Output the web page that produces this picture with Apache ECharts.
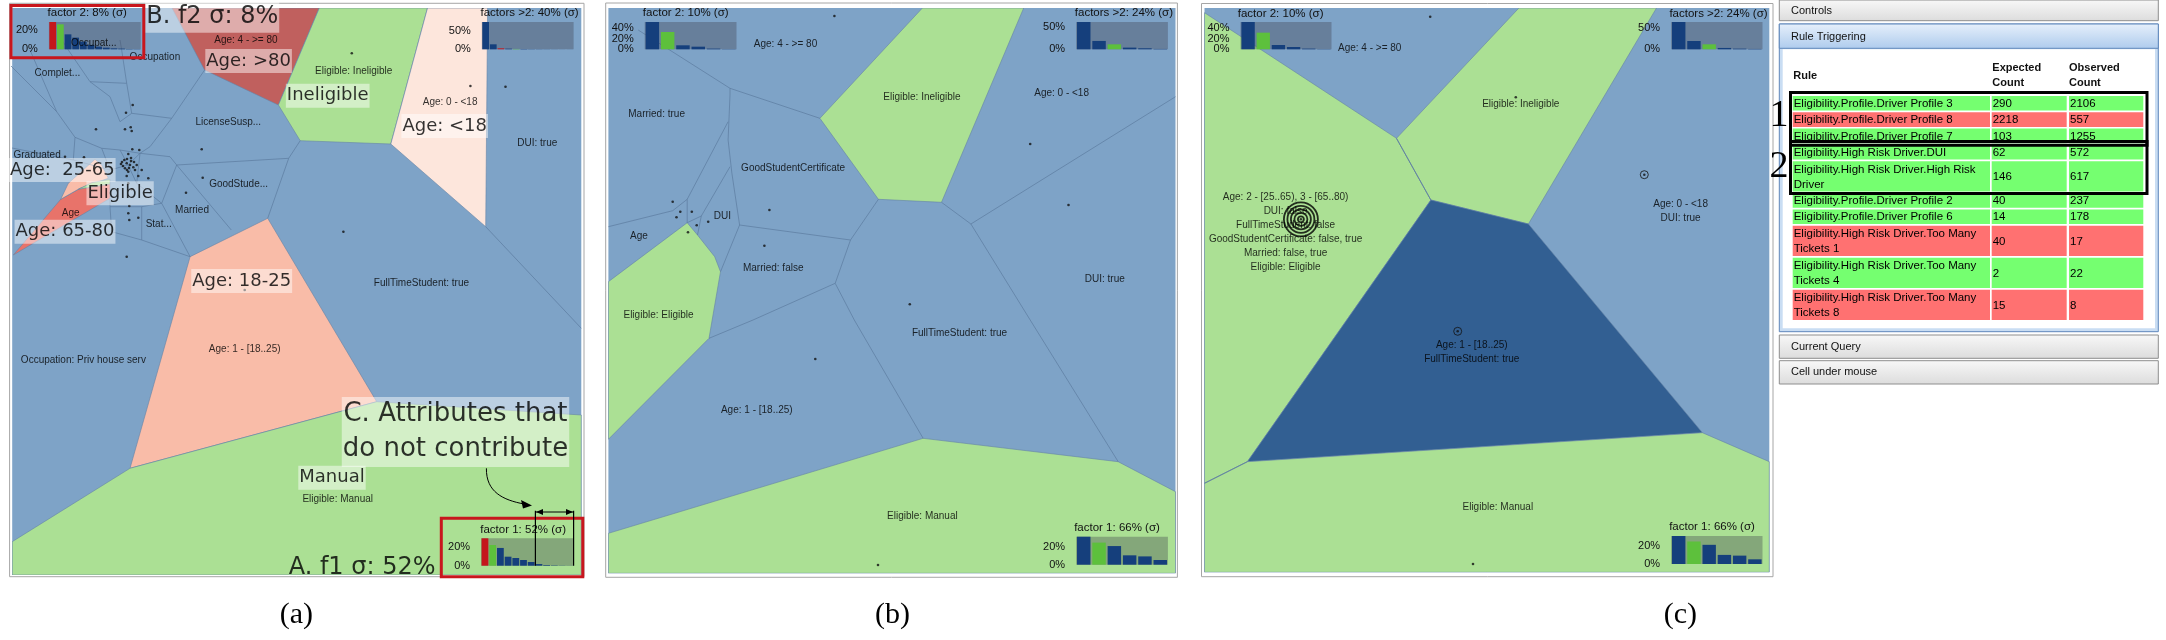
<!DOCTYPE html>
<html>
<head>
<meta charset="utf-8">
<script src="https://cdn.jsdelivr.net/npm/echarts@6/dist/echarts.min.js"></script>
<style>
  html, body { margin: 0; background: #fff; }
  #main { width: 2166px; height: 640px; }
</style>
</head>
<body>
<div id="main"></div>
<script>
// ---- data: voronoi cells, edges, centres and labels of the three maps ----
const panelACells = [
  { kind: 'high', pts: [[172,8],[319.3,8],[278.4,105],[204.6,70]] },
  { kind: 'match', pts: [[319.3,8],[427.5,8],[390.8,144],[300.2,140.7],[278.4,105]] },
  { kind: 'low', pts: [[427.5,8],[487.6,8],[485.7,226.7],[390.8,144]] },
  { kind: 'mid', pts: [[267.7,218.3],[190.1,256.7],[130,468.3],[376.7,401.7]] },
  { kind: 'match', pts: [[12.2,541.7],[130,468.3],[376.7,401.7],[581.3,415],[581.3,575],[12.2,575]] },
  { kind: 'hot', pts: [[13.3,255],[60.7,199.3],[80,188.3],[110,183.3],[110,198.3]] },
  { kind: 'mid', pts: [[60.7,199.3],[68.3,183.3],[95,159.3],[101.7,165],[108.3,178.3],[80,188.3]] },
  { kind: 'match', pts: [[78.3,189.3],[91.7,182.7],[110,179.3],[110,184]] }
];
const panelAEdges = [
  [[10,65],[56.7,111.7],[75,137.3],[101.7,148.3]],
  [[62,40],[68.3,50],[90,81.7],[110,96.7],[120,121.7]],
  [[120,40],[121.7,50],[126.7,83.3],[131.7,113.3]],
  [[90,81.7],[126.7,83.3]],
  [[131.7,113.3],[171.7,118.3],[204.6,70]],
  [[171.7,118.3],[150,146.7],[140,153.3]],
  [[120,121.7],[131.7,113.3]],
  [[101.7,148.3],[120,150],[140,153.3]],
  [[75,137.3],[73.3,160]],
  [[12,148],[73.3,160],[110,170]],
  [[140,153.3],[170,156.7],[176.7,165]],
  [[176.7,165],[288.7,158.3],[300.2,140.7]],
  [[288.7,158.3],[267.7,218.3]],
  [[176.7,165],[231.3,230]],
  [[176.7,165],[161.7,203.3]],
  [[136.7,183.3],[161.7,203.3],[190.1,256.7]],
  [[110,206.7],[141.7,206.7],[161.7,203.3]],
  [[111.7,231.7],[141.7,240],[190.1,256.7]],
  [[141.7,206.7],[141.7,240]],
  [[110,198.3],[110,206.7],[111.7,231.7]],
  [[140,153.3],[136.7,183.3]],
  [[30,50],[56.7,111.7]],
  [[485.7,226.7],[581.3,328.3]],
  [[128,165],[140,153.3]], [[128,165],[110,170]], [[128,165],[136.7,183.3]], [[128,165],[120,150]],
  [[110,170],[101.7,148.3]]
];
const panelADots = [
  [132.7,105],[126,112.7],[96,129.3],[125,129.3],[130.7,127.3],[131.7,131],[132.3,149.3],[139.3,150],
  [128.3,154],[124.3,160],[126.7,163.3],[130,165],[125,168.3],[133.3,167.3],[128.3,171.7],[136.7,165],
  [141.7,170],[126.7,176],[138.3,176],[148.3,178.3],[128.3,183.3],[131.7,189.3],[129.3,206],[128.3,213.3],
  [129.3,220],[138.3,217.7],[126.7,256.7],[201.7,149.3],[202.7,177.7],[186,192.7],[84,157.3],[65,156.7],
  [351.8,53.3],[470.4,86],[505.5,86.7],[343.4,231.7],[244.7,290],[122,162],[127,159],[131,161],[123,166],
  [129,168],[134,162],[121,164],[127,170],[131,158],[135,170]
];
const panelALabels = [
  ['Occupation',154.9,57.7], ['Complet...',57.4,73.7], ['Age: 4 - >= 80',245.9,40.7],
  ['Eligible: Ineligible',353.7,71.3], ['Age: 0 - <18',450.1,102.7], ['DUI: true',537.3,143.7],
  ['LicenseSusp...',228.3,122.7], ['Graduated',37.1,155.7], ['GoodStude...',238.6,184.3],
  ['Married',192,210.7], ['Stat...',158.7,224.7], ['Age',70.7,213.3], ['FullTimeStudent: true',421.4,283.7],
  ['Age: 1 - [18..25)',244.7,349], ['Occupation: Priv house serv',83.4,360.7], ['Eligible: Manual',337.7,499.3],
  ['Occupat...',93.7,43.3]
];
const panelANotes = [
  ['B. f2 σ: 8%',212.2,16.7], ['Age: >80',248.6,61], ['Ineligible',327.7,95.7], ['Age: <18',444.7,126],
  ['Age:  25-65',62.3,170], ['Eligible',120.1,193.3], ['Age: 65-80',65,231.7], ['Age: 18-25',241.7,281],
  ['C. Attributes that\ndo not contribute',455.5,432], ['Manual',332,477.7], ['A. f1 σ: 52%',362.1,567.3]
];

const panelBCells = [
  { kind: 'match', pts: [[922.4,8],[1023.7,8],[941.5,202.3],[878.4,199.3],[819.9,118.3]] },
  { kind: 'match', pts: [[608.4,281.7],[687.2,222.7],[697.5,235],[714.7,256.7],[720.5,271.7],[709,338.3],[608.4,439.3]] },
  { kind: 'match', pts: [[608.4,533.3],[923.1,438.3],[1118.2,461.7],[1175.5,491.7],[1175.5,573.3],[608.4,573.3]] }
];
const panelBEdges = [
  [[638.2,30],[730,88.3],[819.9,118.3]],
  [[730,88.3],[730,95],[728.1,140],[731.9,173.3],[739.6,225],[720.5,271.7]],
  [[728.1,121.7],[687.2,199.3],[687.2,222.7]],
  [[608.4,226.7],[672.7,210.7],[687.2,199.3]],
  [[730,166.7],[701.3,216],[697.5,235]],
  [[687.2,222.7],[701.3,216]],
  [[739.6,225],[850.5,240],[878.4,199.3]],
  [[850.5,240],[835.2,283.3],[753,320],[709,338.3]],
  [[835.2,283.3],[854.3,320],[923.1,438.3]],
  [[941.5,202.3],[970.9,224],[1030.2,320],[1118.2,461.7]],
  [[970.9,224],[1175.5,96.7]]
];
const panelBDots = [
  [834.4,16],[672.7,201.7],[680.3,211.7],[691.8,211.7],[676.5,217.3],[696.7,225.3],[708.2,221.7],[688,232.3],
  [769.4,210],[764.4,245.7],[1030.2,144],[1068.5,205],[909.8,304.3],[815.3,359],[878,565]
];
const panelBLabels = [
  ['Age: 4 - >= 80',785.5,44.3], ['Married: true',656.6,114.3], ['GoodStudentCertificate',793.1,168.3],
  ['Eligible: Ineligible',922,97.3], ['Age: 0 - <18',1061.6,93.7], ['DUI',722.4,216.7], ['Age',639,236],
  ['Married: false',773.2,268.7], ['DUI: true',1104.8,279.3], ['Eligible: Eligible',658.5,315.7],
  ['FullTimeStudent: true',959.5,333.3], ['Age: 1 - [18..25)',756.8,410], ['Eligible: Manual',922.4,516.7]
];

const panelCCells = [
  { kind: 'match', pts: [[1204.5,12.7],[1396.5,138.3],[1430.9,200],[1247.4,461.7],[1204.5,483.3]] },
  { kind: 'match', pts: [[1518.9,8],[1656.5,8],[1528.4,224],[1430.9,200],[1396.5,138.3]] },
  { kind: 'sel', pts: [[1430.9,200],[1528.4,224],[1702.4,432.7],[1247.4,461.7]] },
  { kind: 'match', pts: [[1247.4,461.7],[1702.4,432.7],[1769.3,461.7],[1769.3,572.3],[1204.5,572.3],[1204.5,483.3]] }
];
const panelCEdges = [
  [[1396.5,138.3],[1430.9,200]],
  [[1247.4,461.7],[1204.5,483.3]]
];
const panelCDots = [[1430.2,16.7],[1515.8,97.3],[1473,564]];
const panelCLabels = [
  ['Age: 4 - >= 80',1369.7,48.7], ['Eligible: Ineligible',1520.8,104.7],
  ['Age: 2 - [25..65), 3 - [65..80)\nDUI: false\nFullTimeStudent: false\nGoodStudentCertificate: false, true\nMarried: false, true\nEligible: Eligible',1285.6,232],
  ['Age: 0 - <18\nDUI: true',1680.6,211.7], ['Age: 1 - [18..25)\nFullTimeStudent: true',1471.8,352.5],
  ['Eligible: Manual',1497.8,507.7]
];
const panelCSelected = [[1300.9,219.3]];
const panelCTargets = [[1644.3,174.7],[1457.7,331.3]];

// ---- data: factor histograms (percent of variance) ----
const histTitles = ['factor 2: 8% (σ)','factors >2: 40% (σ)','factor 1: 52% (σ)',
                    'factor 2: 10% (σ)','factors >2: 24% (σ)','factor 1: 66% (σ)',
                    'factor 2: 10% (σ)','factors >2: 24% (σ)','factor 1: 66% (σ)'];
const histValues = [
  [28.3,25.9,15.5,12.1,7.9,4.5,2.8,1.7,1.0,0.7,0.3,0.2],
  [74.5,13.6,2.7,1.8,1.0,0.9,0.5,0.4,0.3,0.2,0.1,0.1],
  [29.8,22.5,19.3,9.8,8.4,6.2,4.0,1.8,0.7,0.4,0.2,0.1],
  [52,33,7.6,5,1.3,0.4],
  [62,19,11.3,3.8,2.3,0.8],
  [31.7,25,21.1,10.6,9.4,5.3],
  [52,31.7,8.2,4.4,1.3,0.4],
  [63,19.2,11.5,3.1,1.5,0.8],
  [31.1,25,21.3,10.1,9.3,5.2]
];
const histRedBar = [0,2,0,-1,-1,-1,-1,-1,-1];
const histGreenBar = [1,4,1,1,2,1,1,2,1];
const histMax = [28.3,74.5,29.8,52,62,31.7,52,63,31.1];
const histTicks = [[0,20],[0,50],[0,20],[0,20,40],[0,50],[0,20],[0,20,40],[0,50],[0,20]];

// ---- data: rule triggering table ----
const ruleNames = [
  'Eligibility.Profile.Driver Profile 3','Eligibility.Profile.Driver Profile 8','Eligibility.Profile.Driver Profile 7',
  'Eligibility.High Risk Driver.DUI','Eligibility.High Risk Driver.High Risk\nDriver',
  'Eligibility.Profile.Driver Profile 2','Eligibility.Profile.Driver Profile 6',
  'Eligibility.High Risk Driver.Too Many\nTickets 1','Eligibility.High Risk Driver.Too Many\nTickets 4',
  'Eligibility.High Risk Driver.Too Many\nTickets 8'
];
const expectedCounts = [290,2218,103,62,146,40,14,40,2,15];
const observedCounts = [2106,557,1255,572,617,237,178,17,22,8];
const captions = ['(a)','(b)','(c)'];

// ---- layout & style ----
const kindColor = { match:'#abe094', high:'#c0605e', low:'#fde6dc', mid:'#f9bca8', hot:'#e8736a', sel:'#325f92' };
const BLUE = '#7ea3c7', NAVY = '#153f7c', GREEN = '#5dc03c', RED = '#c4161c';
const panelRects = [[12.2,8,569.1,567],[608.4,8,567.1,565.3],[1204.5,8,564.8,564.3]];
const panelFrames = [[9.6,3.3,574.4,573.4],[605.7,3,571.7,574.3],[1201.5,3.5,571.5,573.2]];
const histBoxes = [[48.9,22,91.8,27.3],[481.8,22,91.8,27.3],[481.1,538.3,92.5,27.4],
                   [644.7,22,91.8,27.3],[1076.1,22,91.8,27.3],[1076.1,536.7,91.8,28],
                   [1240.5,22,91,27.3],[1671.1,22,91.4,27.3],[1671.1,536,91.4,28]];
const histTitlePos = [[87.2,13.3],[529.6,13.3],[523.1,530],[685.7,13.3],[1123.9,13.3],[1117,528.3],
                      [1280.6,14],[1718.5,14],[1712,527.3]];
const noteSizes = [24,18,18,18,18,18,18,18,26,18,24];
const captionPos = [[296.4,615],[892.5,615],[1680.3,615]];
const ringSizes = [34,27,20,13,6];

const panels = [
  { cells: panelACells, edges: panelAEdges, dots: panelADots, labels: panelALabels },
  { cells: panelBCells, edges: panelBEdges, dots: panelBDots, labels: panelBLabels },
  { cells: panelCCells, edges: panelCEdges, dots: panelCDots, labels: panelCLabels }
];

const grids = [], xAxes = [], yAxes = [], series = [];

panelRects.forEach((r, i) => {
  grids.push({ left: r[0], top: r[1], width: r[2], height: r[3], show: true, backgroundColor: BLUE, borderWidth: 0, z: 0 });
  xAxes.push({ type: 'value', gridIndex: i, min: r[0], max: r[0] + r[2], show: false });
  yAxes.push({ type: 'value', gridIndex: i, min: r[1], max: r[1] + r[3], inverse: true, show: false });
  const p = panels[i];
  series.push({
    type: 'custom', coordinateSystem: 'cartesian2d', xAxisIndex: i, yAxisIndex: i, clip: true, z: 1, silent: true,
    data: p.cells.map((c, k) => [c.pts[0][0], c.pts[0][1], k]),
    renderItem: (params, api) => {
      const c = p.cells[api.value(2)];
      return { type: 'polygon', shape: { points: c.pts.map(pt => api.coord(pt)) },
               style: { fill: kindColor[c.kind], stroke: '#6483a6', lineWidth: 0.6 } };
    }
  });
  series.push({
    type: 'lines', coordinateSystem: 'cartesian2d', xAxisIndex: i, yAxisIndex: i, polyline: true, clip: true, z: 2, silent: true,
    data: p.edges.map(e => ({ coords: e })),
    lineStyle: { color: '#5b7b9f', width: 0.7, opacity: 1 }
  });
  series.push({
    type: 'scatter', xAxisIndex: i, yAxisIndex: i, symbolSize: 2.6, z: 3, silent: true,
    itemStyle: { color: '#111' }, data: p.dots
  });
  series.push({
    type: 'scatter', xAxisIndex: i, yAxisIndex: i, symbolSize: 1, z: 7, silent: true,
    itemStyle: { color: 'transparent' },
    data: p.labels.map(l => ({ name: l[0], value: [l[1], l[2]] })),
    label: { show: true, position: 'inside', formatter: '{b}', fontSize: 10, lineHeight: 14,
             fontFamily: 'Liberation Sans', color: '#000', align: 'center', verticalAlign: 'middle' },
    labelLayout: { hideOverlap: false }
  });
});

// annotations in panel (a)
series.push({
  type: 'scatter', xAxisIndex: 0, yAxisIndex: 0, symbolSize: 1, z: 8, silent: true,
  itemStyle: { color: 'transparent' },
  data: panelANotes.map((n, k) => ({
    name: n[0], value: [n[1], n[2]],
    label: { fontSize: noteSizes[k], lineHeight: Math.round(noteSizes[k] * 1.35),
             backgroundColor: k === panelANotes.length - 1 ? 'transparent' : 'rgba(255,255,255,0.6)' }
  })),
  label: { show: true, position: 'inside', formatter: '{b}', fontFamily: 'DejaVu Sans', color: '#000',
           padding: [0, 1], align: 'center', verticalAlign: 'middle' },
  labelLayout: { hideOverlap: false }
});

// selected cell marks in panel (c)
series.push({
  type: 'scatter', xAxisIndex: 2, yAxisIndex: 2, z: 8, silent: true,
  data: ringSizes.map(s => ({ value: panelCSelected[0], symbolSize: s })),
  itemStyle: { color: 'transparent', borderColor: '#000', borderWidth: 1.8 }
});
series.push({
  type: 'scatter', xAxisIndex: 2, yAxisIndex: 2, z: 8, silent: true, symbolSize: 8,
  data: panelCTargets, itemStyle: { color: 'transparent', borderColor: '#111', borderWidth: 1 }
});
series.push({
  type: 'scatter', xAxisIndex: 2, yAxisIndex: 2, z: 8, silent: true, symbolSize: 2.5,
  data: panelCTargets.concat(panelCSelected), itemStyle: { color: '#111' }
});

// factor histograms; one y axis per tick label so tightly packed labels are all kept
histBoxes.forEach((b, k) => {
  const gi = 3 + k;
  grids.push({ left: b[0], top: b[1], width: b[2], height: b[3], show: true,
               backgroundColor: 'rgba(60,60,75,0.35)', borderWidth: 0, z: 4 });
  xAxes.push({ type: 'category', gridIndex: gi, data: histValues[k].map((v, j) => String(j + 1)), show: false });
  const firstAxis = yAxes.length;
  histTicks[k].forEach(t => {
    yAxes.push({
      type: 'value', gridIndex: gi, position: 'left', offset: 0, min: 0, max: histMax[k], interval: histTicks[k][1], z: 6,
      axisLine: { show: false }, axisTick: { show: false }, splitLine: { show: false },
      axisLabel: { fontSize: 11, color: '#111', margin: 11, fontFamily: 'Liberation Sans',
                   showMinLabel: true, formatter: v => v === t ? v + '%' : '' }
    });
  });
  series.push({
    type: 'bar', xAxisIndex: gi, yAxisIndex: firstAxis, data: histValues[k], barCategoryGap: '12%', z: 5, silent: true,
    itemStyle: { color: p => p.dataIndex === histRedBar[k] ? RED : (p.dataIndex === histGreenBar[k] ? GREEN : NAVY) }
  });
});

// ---- graphic elements: frames, titles, annotations, table ----
const text = (x, y, t, size, opts) => ({
  type: 'text', x: x, y: y, z: 100, silent: true,
  style: Object.assign({ text: t, fontSize: size, fontFamily: 'Liberation Sans', fill: '#111',
    align: 'left', verticalAlign: 'middle', textAlign: 'left', textVerticalAlign: 'middle' }, opts || {})
});
const rect = (x, y, w, h, style, z) => ({ type: 'rect', z: z || 90, silent: true, shape: { x: x, y: y, width: w, height: h }, style: style });
const grad = (a, b) => new echarts.graphic.LinearGradient(0, 0, 0, 1, [{ offset: 0, color: a }, { offset: 1, color: b }]);

const elements = [];
panelFrames.forEach(f => elements.push(rect(f[0], f[1], f[2], f[3], { fill: 'none', stroke: '#a6a6a6', lineWidth: 1 }, 1)));
histTitles.forEach((t, k) => elements.push(text(histTitlePos[k][0], histTitlePos[k][1], t, 11.5,
  { align: 'center', textAlign: 'center' })));
captions.forEach((c, k) => elements.push(text(captionPos[k][0], captionPos[k][1], c, 30,
  { align: 'center', textAlign: 'center', fontFamily: 'Liberation Serif', fill: '#000' })));

// red highlight boxes, bracket and arrow of panel (a)
elements.push(rect(11, 5.5, 132.8, 52.3, { fill: 'none', stroke: '#c8161d', lineWidth: 3 }, 110));
elements.push(rect(441.3, 518.2, 141.5, 58.6, { fill: 'none', stroke: '#c8161d', lineWidth: 3 }, 110));
[[535.4, 510.7, 535.4, 565.7], [573.6, 510.7, 573.6, 565.7], [536, 512, 573, 512]].forEach(l =>
  elements.push({ type: 'line', z: 111, silent: true, shape: { x1: l[0], y1: l[1], x2: l[2], y2: l[3] }, style: { stroke: '#000', lineWidth: 1.2 } }));
[[[536,512],[543,509],[543,515]], [[573,512],[566,509],[566,515]], [[532,505.5],[521,500],[523,508.5]]].forEach(pts =>
  elements.push({ type: 'polygon', z: 111, silent: true, shape: { points: pts }, style: { fill: '#000' } }));
elements.push({ type: 'bezierCurve', z: 111, silent: true,
  shape: { x1: 486.4, y1: 468.3, cpx1: 486, cpy1: 492, cpx2: 503, cpy2: 500, x2: 524, y2: 504 },
  style: { stroke: '#000', lineWidth: 1, fill: 'none' } });

// table panel
const TX = 1779.3, TW = 379;
elements.push(rect(TX, 0, TW, 20.7, { fill: grad('#f8f8f8', '#dcdcdc'), stroke: '#8e8e8e', lineWidth: 1 }));
elements.push(text(1791, 10.5, 'Controls', 11));
elements.push(rect(TX, 24, TW, 307.7, { fill: '#c9ddf3', stroke: '#5f87bb', lineWidth: 1 }));
elements.push(rect(TX, 24, TW, 24.3, { fill: grad('#e6f0fb', '#aecbed'), stroke: '#5f87bb', lineWidth: 1 }));
elements.push(text(1791, 37, 'Rule Triggering', 11));
elements.push(rect(1782.7, 49.3, 372.3, 279, { fill: '#fff' }));
elements.push(text(1793.3, 75.5, 'Rule', 11, { fontWeight: 'bold' }));
elements.push(text(1992.3, 75.5, 'Expected\nCount', 11, { fontWeight: 'bold', lineHeight: 15.5 }));
elements.push(text(2069, 75.5, 'Observed\nCount', 11, { fontWeight: 'bold', lineHeight: 15.5 }));
const colX = [1792.7, 1991.7, 2069], colW = [197.3, 75, 74.3];
const rowTops = [];
let ry = 96;
ruleNames.forEach((name, i) => {
  const lines = name.split('\n').length;
  const pitch = lines > 1 ? 32 : 16.3, h = pitch - 1.7;
  rowTops.push([ry, h]);
  const fill = observedCounts[i] > expectedCounts[i] ? '#75ff70' : '#ff7171';
  const cells = [name, String(expectedCounts[i]), String(observedCounts[i])];
  cells.forEach((c, j) => {
    elements.push(rect(colX[j], ry, colW[j], h, { fill: fill }));
    elements.push(text(colX[j] + 1, ry + h / 2 + 0.5, c, 11.5, { lineHeight: 15, fill: '#000' }));
  });
  ry += pitch;
});
const boxAround = (a, b) => {
  const top = rowTops[a][0] - 3.5, bottom = rowTops[b][0] + rowTops[b][1] + 2;
  return rect(1790.5, top, 356.5, bottom - top, { fill: 'none', stroke: '#000', lineWidth: 3 }, 112);
};
elements.push(boxAround(0, 2));
elements.push(boxAround(3, 4));
elements.push(text(1779, 116, '1', 38, { align: 'center', textAlign: 'center', fontFamily: 'Liberation Serif', fill: '#000' }));
elements.push(text(1779, 167, '2', 38, { align: 'center', textAlign: 'center', fontFamily: 'Liberation Serif', fill: '#000' }));
elements.push(rect(TX, 335, TW, 23.3, { fill: grad('#f8f8f8', '#dcdcdc'), stroke: '#8e8e8e', lineWidth: 1 }));
elements.push(text(1791, 346.7, 'Current Query', 11));
elements.push(rect(TX, 360.7, TW, 23.3, { fill: grad('#f8f8f8', '#dcdcdc'), stroke: '#8e8e8e', lineWidth: 1 }));
elements.push(text(1791, 372.3, 'Cell under mouse', 11));

const chart = echarts.init(document.getElementById('main'));
chart.setOption({
  animation: false,
  backgroundColor: '#fff',
  grid: grids,
  xAxis: xAxes,
  yAxis: yAxes,
  series: series,
  graphic: { elements: elements }
});
</script>
</body>
</html>
